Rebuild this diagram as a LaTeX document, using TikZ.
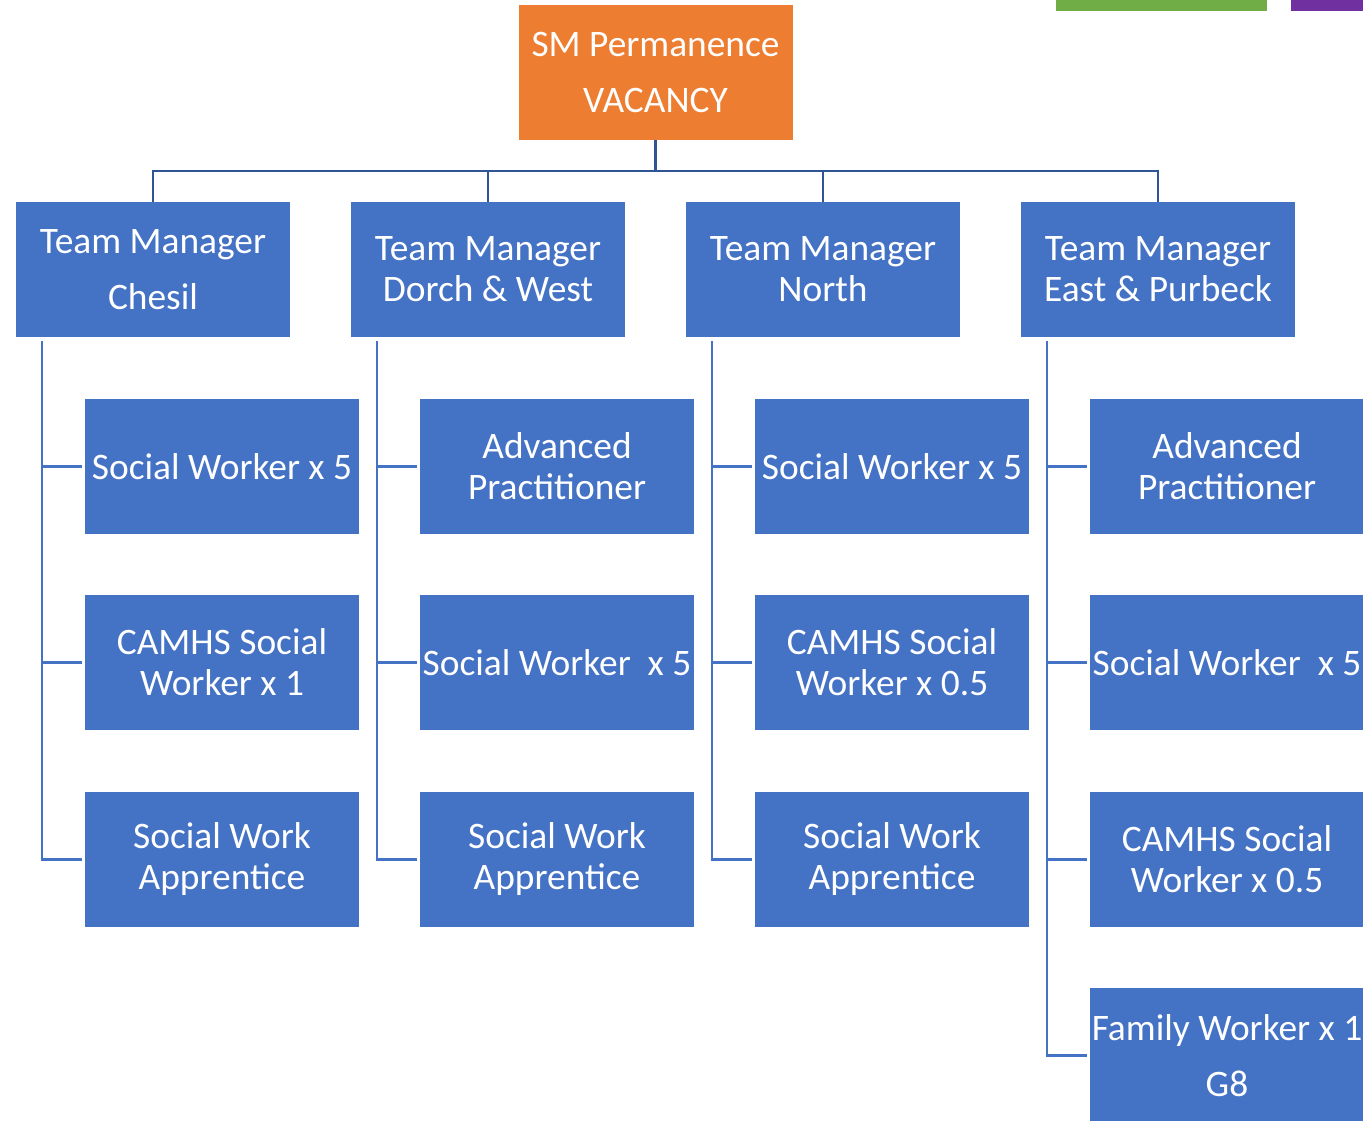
\documentclass[tikz,border=0pt]{standalone}
\usepackage{fontspec}
\setmainfont{Carlito}
\definecolor{boxblue}{HTML}{4472C4}
\definecolor{boxorange}{HTML}{ED7D31}
\definecolor{topline}{HTML}{2F5597}
\definecolor{sidecol}{HTML}{4472C4}
\definecolor{bargreen}{HTML}{70AD47}
\definecolor{barpurple}{HTML}{7030A0}
\begin{document}
\begin{tikzpicture}[x=0.5pt,y=-0.5pt,
  unit/.style={rectangle, fill=boxblue, text=white, minimum width=137pt, minimum height=67.5pt, inner sep=0pt, align=center, font=\fontsize{18.7}{20.5}\selectfont},
  wide/.style={font=\fontsize{18.7}{28.3}\selectfont},
  rootbox/.style={unit, fill=boxorange},
  busline/.style={draw=topline, line width=1.4pt},
  sideline/.style={draw=sidecol, line width=1.2pt}]
\useasboundingbox (0,0) rectangle (1363,1120);
\fill[bargreen] (1056,0) rectangle (1267,11);
\fill[barpurple] (1291,0) rectangle (1363,11);
% root
\node[rootbox, wide] (root) at (655.5,72.5) {SM Permanence\\VACANCY};
% managers
\node[unit, wide] (m1) at (153,269.5) {Team Manager\\Chesil};
\node[unit] (m2) at (488,269.5) {Team Manager\\Dorch \& West};
\node[unit] (m3) at (823,269.5) {Team Manager\\North};
\node[unit] (m4) at (1158,269.5) {Team Manager\\East \& Purbeck};
% children column 1
\node[unit] (c11) at (222,466.5) {Social Worker x 5};
\node[unit] (c12) at (222,662.5) {CAMHS Social\\Worker x 1};
\node[unit] (c13) at (222,859.5) {Social Work\\Apprentice};
% column 2
\node[unit] (c21) at (557,466.5) {Advanced\\Practitioner};
\node[unit] (c22) at (557,662.5) {Social Worker\ \ x 5};
\node[unit] (c23) at (557,859.5) {Social Work\\Apprentice};
% column 3
\node[unit] (c31) at (892,466.5) {Social Worker x 5};
\node[unit] (c32) at (892,662.5) {CAMHS Social\\Worker x 0.5};
\node[unit] (c33) at (892,859.5) {Social Work\\Apprentice};
% column 4
\node[unit] (c41) at (1227,466.5) {Advanced\\Practitioner};
\node[unit] (c42) at (1227,662.5) {Social Worker\ \ x 5};
\node[unit] (c43) at (1227,859.5) {CAMHS Social\\Worker x 0.5};
\node[unit, wide] (c44) at (1227,1055.5) {Family Worker x 1\\G8};
% top connectors
\coordinate (bus) at (655.5,171);
\foreach \m in {m1,m2,m3,m4}{
  \draw[busline] (root.south) -- (bus) -| (\m.north);
}
% side trunks
\coordinate (t1) at (42,341);
\coordinate (t2) at (377,341);
\coordinate (t3) at (712,341);
\coordinate (t4) at (1047,341);
\draw[sideline] (t1) |- ([xshift=-1.5pt]c13.west);
\draw[sideline] (t2) |- ([xshift=-1.5pt]c23.west);
\draw[sideline] (t3) |- ([xshift=-1.5pt]c33.west);
\draw[sideline] (t4) |- ([xshift=-1.5pt]c44.west);
\foreach \c/\t in {c11/t1,c12/t1,c21/t2,c22/t2,c31/t3,c32/t3,c41/t4,c42/t4,c43/t4}{
  \draw[sideline] (\t |- \c.west) -- ([xshift=-1.5pt]\c.west);
}
\end{tikzpicture}
\end{document}
